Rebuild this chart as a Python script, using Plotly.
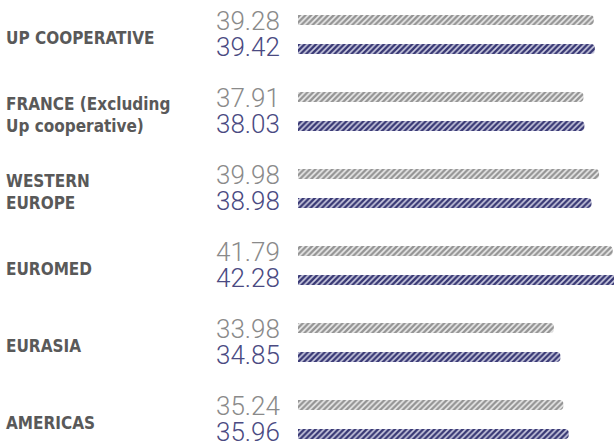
import plotly.graph_objects as go

categories = ["UP COOPERATIVE", "FRANCE (Excluding<br>Up cooperative)", "WESTERN<br>EUROPE",
              "EUROMED", "EURASIA", "AMERICAS"]
series_gray = [39.28, 37.91, 39.98, 41.79, 33.98, 35.24]
series_blue = [39.42, 38.03, 38.98, 42.28, 34.85, 35.96]

GRAY_BAR = "#949494"
GRAY_BG = "#eeeeee"
BLUE_BAR = "#383874"
BLUE_BG = "#cfcfe3"
GRAY_TXT = "#8a8a8a"
BLUE_TXT = "#4a4a82"
CAT_TXT = "#595959"

idx = list(range(len(categories)))

fig = go.Figure()
for vals, col, bg in [(series_gray, GRAY_BAR, GRAY_BG), (series_blue, BLUE_BAR, BLUE_BG)]:
    fig.add_trace(go.Bar(
        y=idx, x=vals, orientation="h",
        marker=dict(color=bg, line=dict(width=0),
                    pattern=dict(shape="/", fgcolor=col, fillmode="overlay",
                                 fgopacity=1, size=4, solidity=0.6)),
        hoverinfo="skip", showlegend=False,
    ))

annotations = []
for i, cat in enumerate(categories):
    annotations.append(dict(
        x=-0.93, xref="paper", y=i, yref="y", text="<b>" + cat + "</b>",
        xanchor="left", yanchor="middle", align="left", showarrow=False,
        yshift=-3,
        font=dict(family="Liberation Sans Narrow, DejaVu Sans Condensed, Roboto", size=17,
                  color=CAT_TXT),
    ))
    for vals, col, shift in [(series_gray, GRAY_TXT, 14), (series_blue, BLUE_TXT, -12.5)]:
        annotations.append(dict(
            x=0, xref="x", y=i, yref="y", text=f"{vals[i]:.2f}",
            xanchor="right", yanchor="middle", showarrow=False,
            xshift=-16, yshift=shift,
            font=dict(family="Roboto", size=26, color=col, weight=300),
        ))

px_per_unit = 7.53
fig.update_layout(
    width=614, height=443,
    margin=dict(l=298, r=0, t=0, b=0),
    paper_bgcolor="white", plot_bgcolor="white",
    barmode="group", bargap=0.25, bargroupgap=0.655,
    barcornerradius=5,
    xaxis=dict(range=[0, 316 / px_per_unit], visible=False, fixedrange=True),
    yaxis=dict(range=[5 + (443 - 419.5) / 77, -34.5 / 77], visible=False, fixedrange=True),
    annotations=annotations,
)

fig.write_html("out.html")
